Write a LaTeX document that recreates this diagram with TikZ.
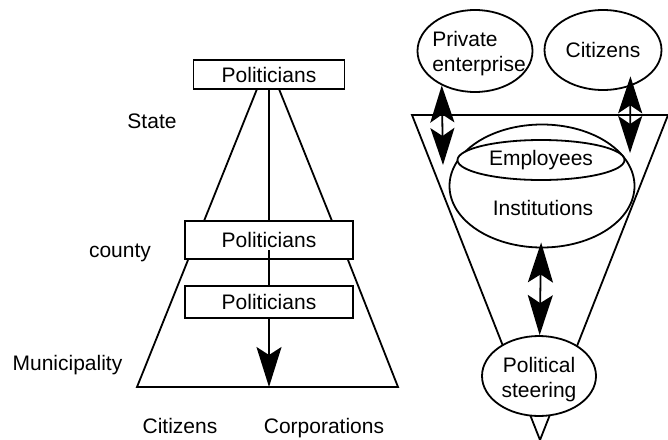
\documentclass[tikz,border=0pt]{standalone}
\usepackage{fontspec}
\setmainfont{Liberation Sans}
\usetikzlibrary{arrows.meta, shapes.geometric}

\tikzset{
  pbox/.style={draw, fill=white, minimum width=84pt, minimum height=19pt, inner sep=0pt},
  oval/.style={draw, ellipse, fill=white, inner sep=0pt},
  lbl/.style={anchor=base},
  bighead/.style={-{Stealth[length=20pt, width=12.5pt, inset=4pt]}},
  dblbig/.style={{Stealth[length=20pt, width=12.5pt, inset=4pt]}-{Stealth[length=20pt, width=12.5pt, inset=4pt]}},
  dblsmall/.style={{Stealth[length=18.5pt, width=12pt, inset=4pt]}-{Stealth[length=18.5pt, width=12pt, inset=4pt]}}
}

\begin{document}
\begin{tikzpicture}[x=0.5pt, y=-0.5pt, line width=0.9pt,
    font=\fontsize{10.5}{12.5}\selectfont]
\useasboundingbox (0,0) rectangle (668,439);

% pyramid
\draw (257,89) -- (204,221);
\draw (279,89) -- (332,221);
\draw (188,260) -- (137,387) -- (398,387) -- (348,260);

\node[pbox, minimum width=75.5pt, minimum height=14.5pt] (pstate) at (269,74.5) {Politicians};
\node[pbox] (pcounty) at (269,240) {Politicians};
\node[pbox, minimum height=16pt] (pmuni) at (269,302) {Politicians};
\coordinate (ground) at (269,387);

\draw (pstate) -- (pcounty);
\draw ([yshift=-5pt]pcounty.center) -- (pmuni);
\draw[bighead] (pmuni) -- (ground);

\node[lbl] (state) at (152,128) {State};
\node[lbl] (county) at (120,257) {county};
\node[lbl] (muni) at (67.5,370) {Municipality};
\node[lbl] (citleft) at (180,433) {Citizens};
\node[lbl] (corp) at (324,433) {Corporations};

% inverted triangle
\draw (412,115) -- (668,115) -- (540,440) -- cycle;

\node[oval, minimum width=57.5pt, minimum height=41pt,
  label={[align=left, xshift=2pt, yshift=-1.5pt]center:Private\\enterprise}] (priv) at (475,51) {};
\node[oval, minimum width=58.5pt, minimum height=40pt, label=center:Citizens] (citz) at (603,50) {};
\node[oval, minimum width=92.5pt, minimum height=61.5pt] (inst) at (542,186) {};
\node[oval, minimum width=83.5pt, minimum height=20pt] (empl) at (541,160) {Employees};
\node (insttxt) at (543,207.5) {Institutions};
\node[oval, minimum width=57pt, minimum height=40pt,
  label={[align=center, yshift=-2pt]center:Political\\steering}] (steer) at (539,376) {};

\coordinate (privlow) at (443,165);
\coordinate (citzlow) at (630,153);
\draw[dblsmall] (priv.226.7) -- (privlow);
\draw[dblsmall, shorten <=-5pt] (citz.307.7) -- (citzlow);
\draw[dblbig, shorten <=-3pt] (inst) -- (steer);
\end{tikzpicture}
\end{document}
